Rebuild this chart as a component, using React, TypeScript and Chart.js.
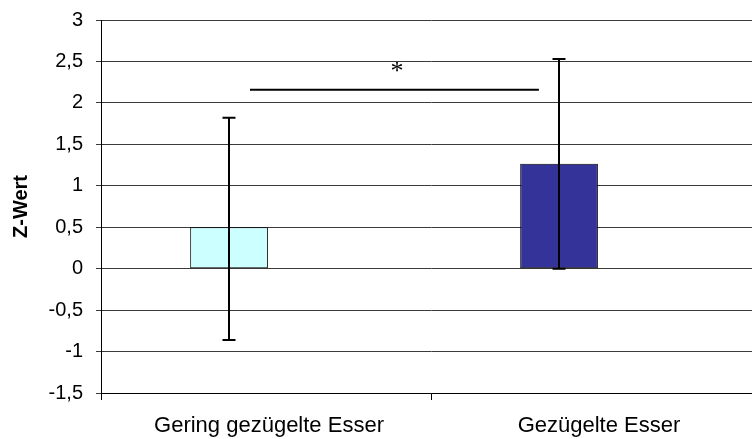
import React, { useEffect, useRef } from "react";
import { Chart, registerables } from "chart.js";

Chart.register(...registerables);

const categories = ["Gering gezügelte Esser", "Gezügelte Esser"];
// bar positions along the category axis (in category units, 0..2)
const barPositions = [0.388, 1.388];
const meanValues = [0.5, 1.265];
const errorLow = [-0.86, 0.0];
const errorHigh = [1.82, 2.53];
const barColors = ["#CCFFFF", "#333399"];
const yMin = -1.5;
const yMax = 3;
const yStep = 0.5;
const yTitle = "Z-Wert";
const sigFrom = 0.4515;
const sigTo = 1.327;
const sigY = 2.16;
const sigLabel = "*";
const sigLabelX = 0.897;
const sigLabelY = 2.37;

const errorBarPlugin = {
  id: "errorBars",
  afterDatasetsDraw(chart: any) {
    const ctx = chart.ctx;
    const meta = chart.getDatasetMeta(0);
    const y = chart.scales.y;
    ctx.save();
    ctx.strokeStyle = "#000";
    ctx.lineWidth = 2;
    meta.data.forEach((bar: any, i: number) => {
      const x = Math.round(bar.x);
      const yl = y.getPixelForValue(errorLow[i]);
      const yh = y.getPixelForValue(errorHigh[i]);
      ctx.beginPath();
      ctx.moveTo(x, yl);
      ctx.lineTo(x, yh);
      ctx.moveTo(x - 6.5, yl);
      ctx.lineTo(x + 6.5, yl);
      ctx.moveTo(x - 6.5, yh);
      ctx.lineTo(x + 6.5, yh);
      ctx.stroke();
    });
    ctx.restore();
  },
};

const significancePlugin = {
  id: "significance",
  afterDatasetsDraw(chart: any) {
    const ctx = chart.ctx;
    const xs = chart.scales.xb;
    const ys = chart.scales.y;
    const x1 = xs.getPixelForValue(sigFrom);
    const x2 = xs.getPixelForValue(sigTo);
    const yy = ys.getPixelForValue(sigY);
    ctx.save();
    ctx.strokeStyle = "#000";
    ctx.lineWidth = 2;
    ctx.beginPath();
    ctx.moveTo(x1, yy);
    ctx.lineTo(x2, yy);
    ctx.stroke();
    ctx.fillStyle = "#000";
    ctx.font = "26px 'Liberation Serif'";
    ctx.textAlign = "center";
    ctx.textBaseline = "middle";
    ctx.fillText(sigLabel, xs.getPixelForValue(sigLabelX), ys.getPixelForValue(sigLabelY));
    ctx.restore();
  },
};

export default function App() {
  const canvasRef = useRef<HTMLCanvasElement | null>(null);

  useEffect(() => {
    if (!canvasRef.current) return;
    const chart = new Chart(canvasRef.current, {
      type: "bar",
      data: {
        labels: categories,
        datasets: [
          {
            data: barPositions.map((x, i) => ({ x, y: meanValues[i] })),
            xAxisID: "xb",
            backgroundColor: barColors,
            borderColor: "#000",
            borderWidth: 1,
            borderSkipped: false,
            categoryPercentage: 1,
            barPercentage: 0.2355,
          },
        ],
      },
      options: {
        animation: false,
        responsive: false,
        devicePixelRatio: 1,
        layout: { padding: { top: 20, right: 9, left: 0, bottom: 0 } },
        plugins: {
          legend: { display: false },
          tooltip: { enabled: false },
        },
        scales: {
          x: {
            type: "category",
            labels: categories,
            offset: true,
            grid: {
              display: true,
              offset: true,
              drawOnChartArea: false,
              drawTicks: true,
              tickLength: 7,
              color: "#000",
            },
            border: { display: true, color: "#000", width: 1 },
            ticks: {
              color: "#000",
              font: { family: "'Liberation Sans', Arial", size: 22 },
              padding: 13,
              labelOffset: 3,
              maxRotation: 0,
              autoSkip: false,
            },
            afterFit(scale: any) {
              scale.height = 46;
              scale.paddingLeft = 0;
              scale.paddingRight = 0;
            },
          },
          xb: {
            type: "linear",
            display: false,
            min: 0,
            max: 2,
            offset: false,
            ticks: { stepSize: 1 },
          },
          y: {
            min: yMin,
            max: yMax,
            ticks: {
              stepSize: yStep,
              color: "#000",
              font: { family: "'Liberation Sans', Arial", size: 20 },
              padding: 13,
              callback: (v: any) => String(v).replace(".", ","),
            },
            grid: {
              color: "#3a3a3a",
              lineWidth: 1,
              tickLength: 5,
              drawTicks: true,
            },
            border: { display: true, color: "#000", width: 1 },
            title: {
              display: true,
              text: yTitle,
              color: "#000",
              font: { family: "'Liberation Sans', Arial", size: 20, weight: "bold" },
              padding: { top: 9, bottom: 0 },
            },
            afterFit(scale: any) {
              scale.width = 101;
              scale.paddingTop = 0;
              scale.paddingBottom = 0;
            },
          },
        },
      },
      plugins: [errorBarPlugin, significancePlugin],
    });
    return () => chart.destroy();
  }, []);

  return (
    <div
      style={{
        position: "absolute",
        left: 0,
        top: 0,
        width: 752,
        height: 439,
        overflow: "hidden",
        background: "#fff",
      }}
    >
      <canvas ref={canvasRef} width={770} height={439} style={{ display: "block" }} />
    </div>
  );
}
